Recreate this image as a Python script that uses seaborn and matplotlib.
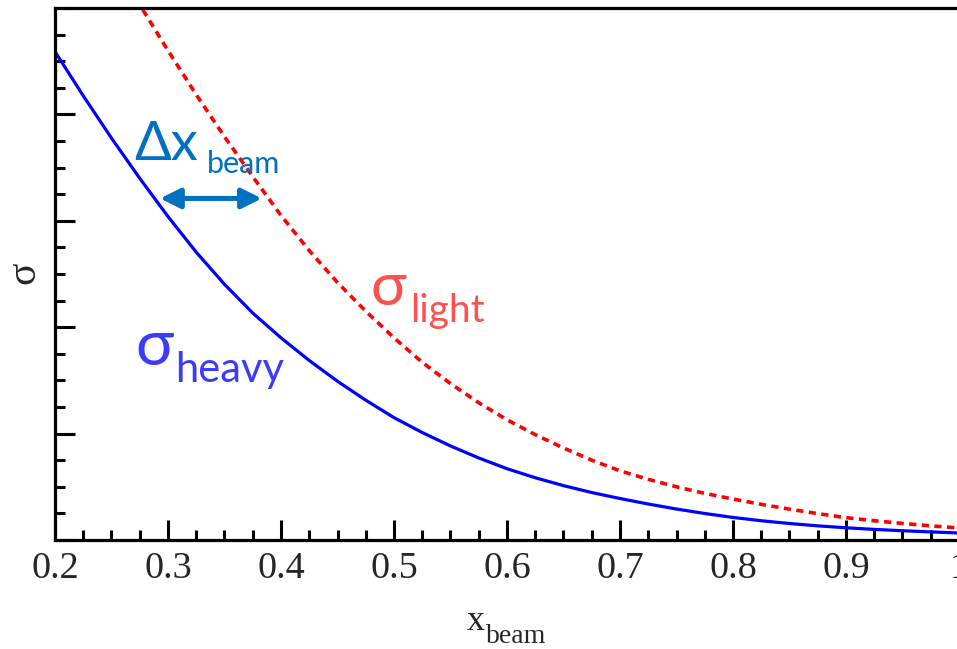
import numpy as np
import pandas as pd
import matplotlib
matplotlib.use("Agg")
import matplotlib.pyplot as plt
from matplotlib.ticker import MultipleLocator, FixedLocator, FixedFormatter
import seaborn as sns

# ---- data ----
x_heavy = [0.200, 0.225, 0.250, 0.275, 0.300, 0.325, 0.350, 0.375, 0.400,
           0.425, 0.450, 0.475, 0.500, 0.525, 0.550, 0.575, 0.600, 0.625,
           0.650, 0.675, 0.700, 0.725, 0.750, 0.775, 0.800, 0.825, 0.850,
           0.875, 0.900, 0.925, 0.950, 0.975, 1.000]
sigma_heavy = [4.59, 4.175, 3.777, 3.399, 3.04, 2.705, 2.403, 2.133, 1.90,
               1.687, 1.492, 1.314, 1.15, 1.01, 0.884, 0.771, 0.67, 0.585,
               0.511, 0.446, 0.39, 0.338, 0.291, 0.249, 0.212, 0.181, 0.155,
               0.133, 0.115, 0.0995, 0.087, 0.076, 0.066]

x_light = [0.250, 0.275, 0.300, 0.325, 0.350, 0.375, 0.400, 0.425, 0.450,
           0.475, 0.500, 0.525, 0.550, 0.575, 0.600, 0.625, 0.650, 0.675,
           0.700, 0.725, 0.750, 0.775, 0.800, 0.825, 0.850, 0.875, 0.900,
           0.925, 0.950, 0.975, 1.000]
sigma_light = [5.48, 5.03, 4.60, 4.185, 3.79, 3.415, 3.05, 2.72, 2.42,
               2.15, 1.90, 1.67, 1.47, 1.29, 1.13, 0.99, 0.865, 0.75,
               0.65, 0.57, 0.50, 0.438, 0.385, 0.335, 0.29, 0.248, 0.21,
               0.181, 0.156, 0.133, 0.113]

x_ticks = [0.2, 0.3, 0.4, 0.5, 0.6, 0.7, 0.8, 0.9, 1.0]
x_tick_labels = ["0.2", "0.3", "0.4", "0.5", "0.6", "0.7", "0.8", "0.9", "1"]

arrow_x = [0.293, 0.383]
arrow_y = 3.21

sns.set_style("ticks")
plt.rcParams["font.family"] = ["Liberation Serif", "DejaVu Serif"]

W, H = 957, 649
fig = plt.figure(figsize=(W / 100, H / 100), dpi=100)
ax = fig.add_axes([55 / W, 1 - 540 / H, 904 / W, 532 / H])

df_h = pd.DataFrame({"x": x_heavy, "s": sigma_heavy})
df_l = pd.DataFrame({"x": x_light, "s": sigma_light})
sns.lineplot(data=df_h, x="x", y="s", ax=ax, color="#0000FF", lw=2.3)
sns.lineplot(data=df_l, x="x", y="s", ax=ax, color="#FF0000", lw=2.6)
ax.lines[-1].set_dashes([2.0, 1.5])
for ln in ax.lines:
    ln.set_solid_joinstyle("round")
    ln.set_dash_joinstyle("round")

ax.set_xlim(0.2, 1.0)
ax.set_ylim(0, 5)
ax.set_xlabel("")
ax.set_ylabel("")

for sp in ax.spines.values():
    sp.set_linewidth(2.3)
    sp.set_color("black")

ax.xaxis.set_major_locator(FixedLocator(x_ticks))
ax.xaxis.set_major_formatter(FixedFormatter(x_tick_labels))
ax.xaxis.set_minor_locator(MultipleLocator(0.025))
ax.yaxis.set_major_locator(MultipleLocator(1.0))
ax.yaxis.set_minor_locator(MultipleLocator(0.25))
ax.set_yticklabels([])
ax.tick_params(which="both", direction="in", color="black", width=2.2,
               top=False, right=False)
ax.tick_params(which="major", length=14.5)
ax.tick_params(which="minor", length=7.2)
ax.tick_params(axis="x", which="major", labelsize=27.5, pad=8)
for lab in ax.get_xticklabels():
    lab.set_fontfamily(["Liberation Serif", "DejaVu Serif"])

# annotation texts
sans = ["Lato", "DejaVu Sans"]
ax.text(0.270, 3.57, "Δx", color="#0070C0", fontsize=39, family=sans)
ax.text(0.334, 3.45, "beam", color="#0070C0", fontsize=22, family=sans)
ax.annotate("", xy=(arrow_x[1], arrow_y), xytext=(arrow_x[0], arrow_y),
            arrowprops=dict(arrowstyle="<|-|>,head_length=0.4,head_width=0.2",
                            color="#0070C0", lw=3.6, mutation_scale=30,
                            shrinkA=0, shrinkB=0))

ax.text(0.479, 2.21, "σ", color="#FF5050", fontsize=43, family=sans)
ax.text(0.514, 2.05, "light", color="#FF5050", fontsize=28, family=sans)

ax.text(0.2715, 1.645, "σ", color="#3B3BFF", fontsize=46, family=sans)
ax.text(0.306, 1.485, "heavy", color="#3B3BFF", fontsize=30, family=sans)

# axis labels
fig.text(24 / W, 1 - 273 / H, "σ", rotation=90, ha="center", va="center",
         fontsize=30, family=["Liberation Serif", "DejaVu Serif"])
fig.text(467 / W, 1 - 630 / H, "x", ha="left", va="baseline", fontsize=26,
         family=["Liberation Serif", "DejaVu Serif"])
fig.text(486 / W, 1 - 643 / H, "beam", ha="left", va="baseline", fontsize=20,
         family=["Liberation Serif", "DejaVu Serif"])

fig.savefig("out.png", dpi=100)
